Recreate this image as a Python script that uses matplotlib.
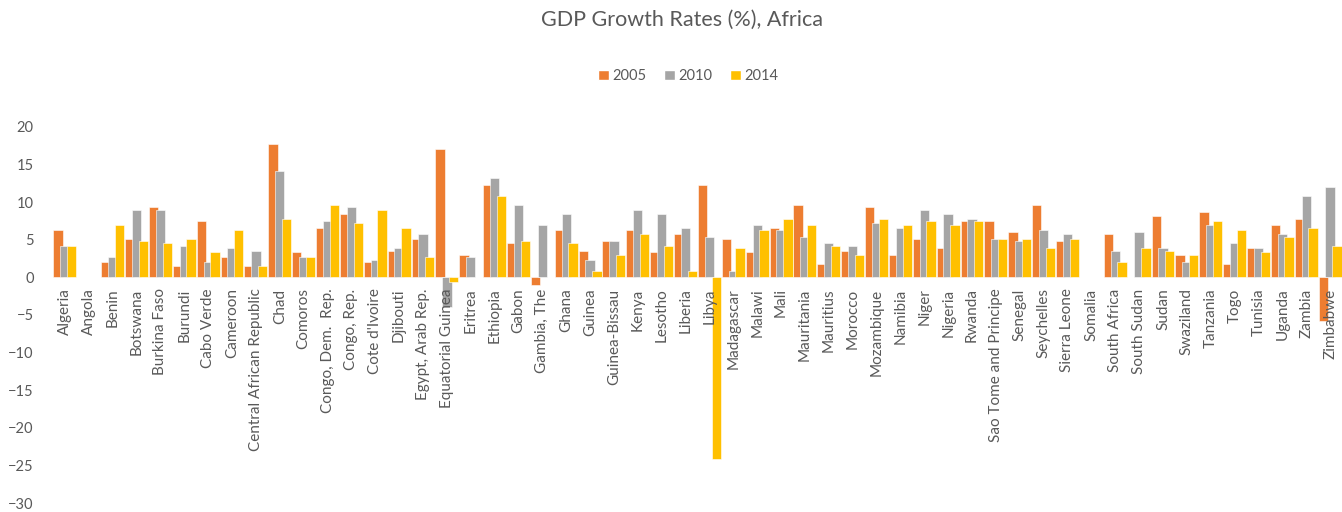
import numpy as np
import matplotlib
matplotlib.use('Agg')
import matplotlib.pyplot as plt
from matplotlib.patches import Patch

plt.rcParams.update({
    "font.family": ["Lato", "DejaVu Sans"],
    "font.size": 10.5,
    "text.color": "#595959",
    "xtick.color": "#595959",
    "ytick.color": "#595959",
})

nan = np.nan

countries = [
    "Algeria", "Angola", "Benin", "Botswana", "Burkina Faso", "Burundi",
    "Cabo Verde", "Cameroon", "Central African Republic", "Chad", "Comoros",
    "Congo, Dem.  Rep.", "Congo, Rep.", "Cote d'Ivoire", "Djibouti",
    "Egypt, Arab Rep.", "Equatorial Guinea", "Eritrea", "Ethiopia", "Gabon",
    "Gambia, The", "Ghana", "Guinea", "Guinea-Bissau", "Kenya", "Lesotho",
    "Liberia", "Libya", "Madagascar", "Malawi", "Mali", "Mauritania",
    "Mauritius", "Morocco", "Mozambique", "Namibia", "Niger", "Nigeria",
    "Rwanda", "Sao Tome and Principe", "Senegal", "Seychelles",
    "Sierra Leone", "Somalia", "South Africa", "South Sudan", "Sudan",
    "Swaziland", "Tanzania", "Togo", "Tunisia", "Uganda", "Zambia", "Zimbabwe",
]

gdp_2005 = [6.3, nan, 2.0, 5.1, 9.3, 1.5, 7.5, 2.65, 1.5, 17.7, 3.3, 6.6, 8.4,
            2.0, 3.5, 5.1, 17.1, 2.9, 12.3, 4.5, -1.0, 6.3, 3.5, 4.8, 6.3, 3.3,
            5.7, 12.3, 5.1, 3.3, 6.6, 9.6, 1.8, 3.5, 9.3, 2.9, 5.1, 3.85, 7.5,
            7.5, 6.0, 9.6, 4.8, nan, 5.7, nan, 8.1, 2.9, 8.7, 1.8, 3.85, 6.9,
            7.8, -5.8]

gdp_2010 = [4.2, nan, 2.65, 9.0, 9.0, 4.2, 2.0, 3.85, 3.5, 14.1, 2.65, 7.5, 9.3,
            2.35, 3.85, 5.7, -4.0, 2.65, 13.2, 9.6, 6.9, 8.4, 2.35, 4.8, 9.0,
            8.4, 6.6, 5.35, 0.85, 6.9, 6.3, 5.35, 4.5, 4.2, 7.2, 6.6, 9.0, 8.4,
            7.8, 5.1, 4.8, 6.3, 5.7, nan, 3.5, 6.0, 3.85, 2.0, 6.9, 4.5, 3.85,
            5.7, 10.8, 12.0]

gdp_2014 = [4.2, nan, 6.9, 4.8, 4.5, 5.1, 3.3, 6.3, 1.5, 7.8, 2.65, 9.6, 7.2,
            9.0, 6.6, 2.65, -0.6, nan, 10.8, 4.8, nan, 4.5, 0.85, 2.9, 5.7, 4.2,
            0.85, -24.1, 3.85, 6.3, 7.8, 6.9, 4.2, 2.9, 7.8, 6.9, 7.5, 6.9, 7.5,
            5.1, 5.1, 3.85, 5.1, nan, 2.0, 3.85, 3.5, 2.9, 7.5, 6.3, 3.3, 5.35,
            6.6, 4.2]

years = ["2005", "2010", "2014"]
colors = ["#ED7D31", "#A5A5A5", "#FFC000"]

W, H = 1342, 512
fig = plt.figure(figsize=(W / 100, H / 100), dpi=100)
ax = fig.add_axes([53 / W, 1 - 503.3 / H, 1289 / W, (503.3 - 126.7) / H])

x = np.arange(len(countries))
width = 0.39
step = 0.285
for i, (vals, c) in enumerate(zip([gdp_2005, gdp_2010, gdp_2014], colors)):
    ax.bar(x + (i - 1) * step, np.array(vals, dtype=float), width,
           color=c, edgecolor='white', linewidth=0.4, zorder=1 + 0.1 * i)

# category labels sit on the zero line and over the bars, like Excel does
for s in ax.spines.values():
    s.set_visible(False)
ax.spines['bottom'].set_position(('data', 0))
ax.xaxis.set_zorder(5)

ax.set_xlim(-0.5, len(countries) - 0.5)
ax.set_ylim(-30, 20)
ax.set_yticks(np.arange(-30, 21, 5))
ax.set_xticks(x)
ax.set_xticklabels(countries, rotation=90, ha='center', va='top')
ax.tick_params(axis='x', length=0, pad=8, labelsize=11)
ax.tick_params(axis='y', length=0, pad=14, labelsize=10.5)

fig.text(682 / W, 1 - 20 / H, "GDP Growth Rates (%), Africa",
         ha='center', va='center', fontsize=15.5)

handles = [Patch(facecolor=c, edgecolor='white', label=y)
           for c, y in zip(colors, years)]
fig.legend(handles=handles, loc='center', bbox_to_anchor=(688 / W, 1 - 76 / H),
           ncol=3, frameon=False, handlelength=0.75, handleheight=0.75,
           handletextpad=0.25, columnspacing=1.2, fontsize=10.5)

fig.savefig("out.png", dpi=100, facecolor='white')
